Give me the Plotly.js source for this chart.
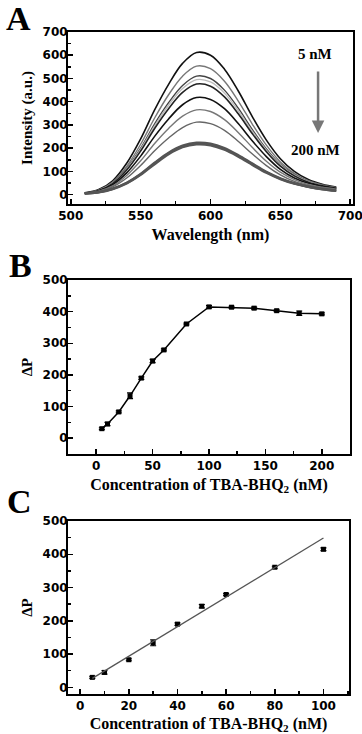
<!DOCTYPE html>
<html>
<head>
<meta charset="utf-8">
<script src="https://cdn.plot.ly/plotly-3.0.1.min.js"></script>
<style>
  html, body { margin: 0; padding: 0; background: #fff; }
  #chart { width: 362px; height: 734px; }
</style>
</head>
<body>
<div id="chart"></div>
<script>
// ---- panel A: emission spectra ----
const wavelength = [510, 520, 530, 540, 550, 560, 570, 580, 590, 600, 610, 620, 630, 640, 650, 660, 670, 680, 690];
const spec5   = [8, 22, 60, 135, 240, 365, 475, 565, 612, 600, 540, 445, 335, 235, 155, 100, 65, 45, 33];
const spec10  = [7, 20, 55, 122, 217, 330, 430, 510, 553, 542, 488, 402, 303, 213, 141, 92, 60, 42, 31];
const spec20  = [7, 19, 51, 113, 200, 305, 396, 470, 510, 500, 450, 371, 280, 197, 131, 86, 57, 40, 30];
const spec30  = [7, 19, 50, 110, 195, 296, 385, 457, 495, 485, 437, 360, 272, 192, 128, 84, 56, 39, 29];
const spec40  = [7, 18, 48, 106, 188, 285, 370, 440, 476, 467, 421, 347, 262, 185, 123, 81, 54, 38, 28];
const spec50  = [6, 16, 43, 94, 166, 251, 326, 387, 418, 410, 370, 305, 231, 164, 109, 72, 49, 35, 26];
const spec60  = [6, 15, 38, 83, 146, 220, 285, 338, 365, 358, 323, 267, 203, 144, 97, 65, 44, 32, 24];
const spec80  = [6, 14, 34, 72, 126, 189, 244, 289, 312, 306, 277, 229, 175, 125, 85, 57, 40, 29, 22];
const spec100 = [5, 11, 26, 52, 90, 138, 181, 211, 224, 220, 201, 170, 134, 99, 71, 50, 35, 25, 18];
const spec140 = [5, 11, 25, 50, 88, 135, 178, 208, 220, 216, 197, 167, 131, 97, 69, 48, 34, 24, 17];
const spec200 = [5, 10, 24, 48, 85, 131, 174, 204, 216, 212, 193, 163, 128, 94, 67, 47, 33, 23, 16];

// ---- panels B and C: signal change vs concentration ----
const concentration = [5, 10, 20, 30, 40, 50, 60, 80, 100, 120, 140, 160, 180, 200];
const deltaP        = [30, 45, 83, 134, 190, 244, 279, 361, 415, 414, 411, 403, 395, 393];
const deltaPErr     = [3, 5, 3, 9, 4, 5, 3, 3, 4, 3, 3, 3, 7, 3];
const linearCount   = 9;            // 5 .. 100 nM used for the linear range
const fitX = [5, 100];
const fitY = [27, 449];

(function() {
  'use strict';

  const serif = 'Liberation Serif';
  const sans  = 'DejaVu Sans';
  const tickFont  = { family: sans, size: 12, color: '#000', weight: 'bold' };
  const titleFont = { family: serif, size: 16, color: '#000', weight: 'bold' };
  const yTitleFont = { family: serif, size: 15, color: '#000', weight: 'bold' };

  function axis(domain, anchor, range, dtick, minorDtick, title, font, standoff) {
    return {
      domain, anchor, range, dtick, tick0: 0,
      showgrid: false, zeroline: false,
      showline: true, linewidth: 2, linecolor: '#000', mirror: true,
      ticks: 'inside', ticklen: 5, tickwidth: 1.5, tickcolor: '#000',
      minor: { ticks: 'inside', ticklen: 3, tickwidth: 1.5, tickcolor: '#000', dtick: minorDtick, showgrid: false },
      tickfont: tickFont,
      ticklabelstandoff: standoff,
      ticklabeloverflow: 'allow',
      title: { text: title, font: font, standoff: 6 }
    };
  }

  const spectra = [spec5, spec10, spec20, spec30, spec40, spec50, spec60, spec80, spec100, spec140, spec200];
  const colors  = ['#111', '#777', '#444', '#bbb', '#222', '#111', '#777', '#666', '#555', '#555', '#555'];
  const widths  = [1.6, 1.4, 1.4, 1.4, 1.6, 1.6, 1.4, 1.4, 2.2, 2.2, 2.2];

  const traces = spectra.map((s, i) => ({
    x: wavelength, y: s, xaxis: 'x', yaxis: 'y',
    type: 'scatter', mode: 'lines',
    line: { color: colors[i], width: widths[i], shape: 'spline', smoothing: 1 },
    hoverinfo: 'skip'
  }));

  traces.push({
    x: concentration, y: deltaP, xaxis: 'x2', yaxis: 'y2',
    type: 'scatter', mode: 'lines+markers',
    line: { color: '#000', width: 1.5 },
    marker: { symbol: 'square', size: 5, color: '#000' },
    error_y: { type: 'data', array: deltaPErr, visible: true, color: '#000', thickness: 1.2, width: 3 }
  });

  traces.push({
    x: concentration.slice(0, linearCount), y: deltaP.slice(0, linearCount), xaxis: 'x3', yaxis: 'y3',
    type: 'scatter', mode: 'markers',
    marker: { symbol: 'square', size: 5, color: '#000' },
    error_y: { type: 'data', array: deltaPErr.slice(0, linearCount), visible: true, color: '#000', thickness: 1.2, width: 3 }
  });

  traces.push({
    x: fitX, y: fitY, xaxis: 'x3', yaxis: 'y3',
    type: 'scatter', mode: 'lines',
    line: { color: '#555', width: 1.3 }
  });

  const px = (v) => v / 362;
  const py = (v) => 1 - v / 734;
  const letter = (t, x, y) => ({
    text: t, xref: 'paper', yref: 'paper', x: px(x), y: py(y),
    xanchor: 'center', yanchor: 'middle', showarrow: false,
    font: { family: serif, size: 34, color: '#000', weight: 'bold' }
  });
  const note = (t, x, y) => ({
    text: t, xref: 'x', yref: 'y', x, y, showarrow: false,
    font: { family: serif, size: 15, color: '#000', weight: 'bold' }
  });

  const layout = {
    width: 362, height: 734,
    margin: { l: 0, r: 0, t: 0, b: 0 },
    paper_bgcolor: '#fff', plot_bgcolor: '#fff',
    showlegend: false,
    font: { family: serif, color: '#000' },
    xaxis:  axis([px(68), px(353)], 'y',  [498, 702], 50, 25, 'Wavelength (nm)', titleFont, 0),
    yaxis:  axis([py(204), py(32)], 'x',  [-40, 700], 100, 50, 'Intensity (a.u.)', yTitleFont, -4),
    xaxis2: axis([px(68), px(350)], 'y2', [-25, 225], 50, 25, 'Concentration of TBA-BHQ<sub>2</sub> (nM)', titleFont, 0),
    yaxis2: axis([py(454), py(280)], 'x2', [-50, 500], 100, 50, 'ΔP', yTitleFont, -4),
    xaxis3: axis([px(68), px(349)], 'y3', [-5, 110.5], 20, 10, 'Concentration of TBA-BHQ<sub>2</sub> (nM)', titleFont, 0),
    yaxis3: axis([py(694), py(521)], 'x3', [-20, 500], 100, 50, 'ΔP', yTitleFont, -4),
    annotations: [
      letter('A', 18, 19),
      letter('B', 20, 265),
      letter('C', 19, 501),
      note('5 nM', 675, 605),
      note('200 nM', 675, 193),
      {
        xref: 'x', yref: 'y', x: 677, y: 266, ax: 0, ay: -63,
        text: '', showarrow: true, arrowhead: 2, arrowsize: 1, arrowwidth: 2.5, arrowcolor: '#777'
      }
    ]
  };

  Plotly.newPlot('chart', traces, layout, { staticPlot: true });
})();
</script>
</body>
</html>
